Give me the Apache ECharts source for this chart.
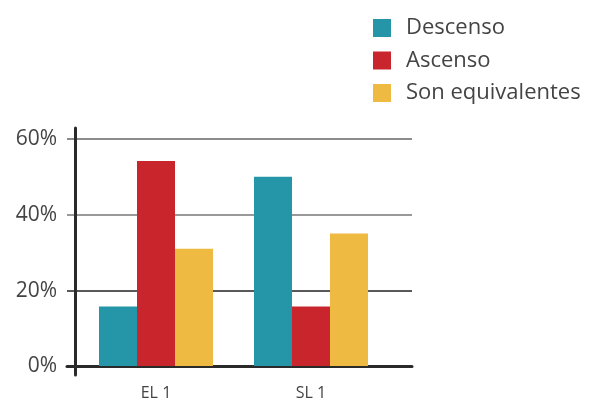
<!DOCTYPE html>
<html>
<head>
<meta charset="utf-8">
<script src="https://cdn.jsdelivr.net/npm/echarts@6/dist/echarts.min.js"></script>
<style>
  html, body { margin: 0; padding: 0; background: #fff; }
  #chart { width: 593px; height: 401px; }
</style>
</head>
<body>
<div id="chart"></div>
<script>
// data
const categories = ['EL 1', 'SL 1']
const seriesNames = ['Descenso', 'Ascenso', 'Son equivalentes']
const descenso = [15.7, 50]
const ascenso = [54.2, 15.7]
const equivalentes = [31, 35]
const yTicks = [0, 20, 40, 60]

const colors = ['#2596a8', '#c9252c', '#eeba42']
const font = '"Open Sans", "Noto Sans", sans-serif'

const chart = echarts.init(document.getElementById('chart'))

const values = [descenso, ascenso, equivalentes]

chart.setOption({
    animation: false,
    legend: {
        orient: 'vertical',
        left: 368,
        top: 12,
        itemWidth: 18,
        itemHeight: 18,
        itemGap: 10.5,
        icon: 'rect',
        data: seriesNames,
        textStyle: {
            fontFamily: font,
            fontSize: 22,
            lineHeight: 22,
            color: '#444',
            padding: [0, 0, 0, 10],
        },
    },
    grid: [
        // split lines + y labels
        { left: 67, right: 181, top: 139, bottom: 34.5 },
        // bars
        { left: 78.5, right: 204.5, top: 139, bottom: 34.5 },
        // vertical axis line
        { left: 75, right: 181, top: 128, bottom: 26 },
    ],
    xAxis: [
        {
            gridIndex: 0,
            type: 'category',
            data: [''],
            axisLine: { show: true, lineStyle: { color: '#2a2a2a', width: 3 } },
            axisTick: { show: false },
            axisLabel: { show: false },
        },
        {
            gridIndex: 1,
            type: 'category',
            data: categories,
            axisLine: { show: false },
            axisTick: { show: false },
            axisLabel: {
                margin: 19,
                fontFamily: font,
                fontSize: 16,
                color: '#444',
            },
        },
        {
            gridIndex: 2,
            type: 'category',
            data: [''],
            show: false,
        },
    ],
    yAxis: [
        {
            gridIndex: 0,
            type: 'value',
            min: yTicks[0],
            max: yTicks[yTicks.length - 1],
            interval: 20,
            axisLine: { show: false },
            axisTick: { show: false },
            axisLabel: {
                margin: 10,
                fontFamily: font,
                fontSize: 21,
                color: '#444',
                formatter: '{value}%',
            },
            splitLine: {
                show: true,
                lineStyle: { color: ['#2a2a2a', '#222', '#777', '#666'], width: 1.5 },
            },
        },
        {
            gridIndex: 1,
            type: 'value',
            min: yTicks[0],
            max: yTicks[yTicks.length - 1],
            interval: 20,
            show: false,
        },
        {
            gridIndex: 2,
            type: 'value',
            min: 0,
            max: 1,
            axisLine: { show: true, lineStyle: { color: '#2a2a2a', width: 3 } },
            axisTick: { show: false },
            axisLabel: { show: false },
            splitLine: { show: false },
        },
    ],
    series: seriesNames.map((name, i) => ({
        name: name,
        type: 'bar',
        xAxisIndex: 1,
        yAxisIndex: 1,
        barWidth: 38,
        barGap: 0,
        itemStyle: { color: colors[i] },
        data: values[i],
    })),
})
</script>
</body>
</html>
